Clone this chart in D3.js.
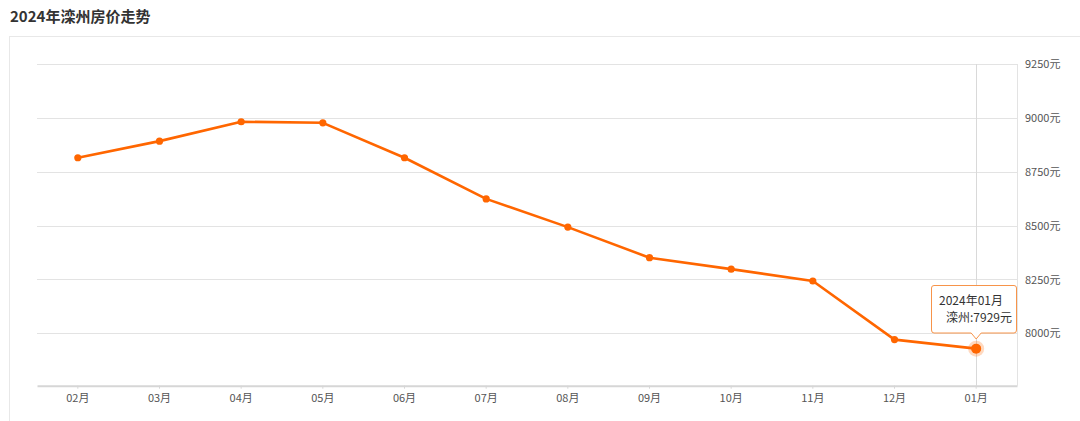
<!DOCTYPE html>
<html><head><meta charset="utf-8">
<script src="https://cdn.jsdelivr.net/npm/d3@7"></script>
<style>
html,body{margin:0;padding:0;background:#fff;}
svg{display:block;font-family:"Noto Sans CJK SC","Noto Sans",sans-serif;}
</style></head>
<body>
<svg id="c" width="1080" height="421"></svg>
<script>
const title = "2024年滦州房价走势";
const months = ["02月","03月","04月","05月","06月","07月","08月","09月","10月","11月","12月","01月"];
const prices = [8815, 8892, 8982, 8977, 8815, 8624, 8493, 8351, 8298, 8243, 7971, 7929];
const yTicks = [8000, 8250, 8500, 8750, 9000, 9250];
const yDomain = [7757, 9250];
const seriesName = "滦州";
const tooltipTitle = "2024年01月";
const activeIndex = 11;

const svg = d3.select("#c");
const M = {left: 37, right: 1017, top: 64, bottom: 385.7};
const color = "#ff6600";

// title
svg.append("text").attr("x", 10).attr("y", 22).attr("font-size", 15).attr("font-weight", "bold")
  .attr("fill", "#333").text(title);

// outer panel border
svg.append("rect").attr("x", 9.5).attr("y", 36.5).attr("width", 1080).attr("height", 400)
  .attr("fill", "none").attr("stroke", "#e8e8e8");

const x = d3.scaleBand().domain(months).range([M.left, M.right]);
const y = d3.scaleLinear().domain(yDomain).range([M.bottom, M.top]);

// grid
const grid = svg.append("g");
grid.selectAll("line").data(yTicks).join("line")
  .attr("x1", M.left).attr("x2", M.right)
  .attr("y1", d => Math.round(y(d)) + 0.5).attr("y2", d => Math.round(y(d)) + 0.5)
  .attr("stroke", "#e3e3e3").attr("stroke-width", 1);

// right frame line
svg.append("line").attr("x1", M.right + 0.5).attr("x2", M.right + 0.5)
  .attr("y1", y(yDomain[1])).attr("y2", M.bottom).attr("stroke", "#e3e3e3");

// crosshair
const cx = x(months[activeIndex]) + x.bandwidth() / 2;
svg.append("line").attr("x1", Math.round(cx) + 0.5).attr("x2", Math.round(cx) + 0.5)
  .attr("y1", y(yDomain[1])).attr("y2", M.bottom).attr("stroke", "#d9d9d9").attr("stroke-width", 1);

// y axis labels (right)
const yAxis = d3.axisRight(y).tickValues(yTicks).tickSize(0).tickPadding(0).tickFormat(d => d + "元");
const ya = svg.append("g").attr("transform", `translate(${M.right + 8},0)`).call(yAxis);
ya.select(".domain").remove();
ya.selectAll("text").attr("font-size", 11).attr("fill", "#555").attr("dy", "0.32em")
  .style("font-family", '"Noto Sans CJK SC","Noto Sans",sans-serif');

// x axis
const xAxis = d3.axisBottom(x).tickSize(3).tickPadding(6).tickSizeOuter(0);
const xa = svg.append("g").attr("transform", `translate(0,${M.bottom})`).call(xAxis);
xa.select(".domain").attr("stroke", "#d6d6d6").attr("stroke-width", 2);
xa.selectAll(".tick line").attr("stroke", "#d6d6d6");
xa.selectAll("text").attr("font-size", 11).attr("fill", "#555")
  .style("font-family", '"Noto Sans CJK SC","Noto Sans",sans-serif');

// line
const line = d3.line().x((d, i) => x(months[i]) + x.bandwidth() / 2).y(d => y(d));
svg.append("path").datum(prices).attr("d", line).attr("fill", "none")
  .attr("stroke", color).attr("stroke-width", 2.6).attr("stroke-linejoin", "round");

svg.append("g").selectAll("circle").data(prices).join("circle")
  .attr("cx", (d, i) => x(months[i]) + x.bandwidth() / 2).attr("cy", d => y(d))
  .attr("r", 3.6).attr("fill", color);

// active point
const ay = y(prices[activeIndex]);
svg.append("circle").attr("cx", cx).attr("cy", ay).attr("r", 8).attr("fill", color).attr("fill-opacity", 0.25);
svg.append("circle").attr("cx", cx).attr("cy", ay).attr("r", 5).attr("fill", color);

// tooltip
const tl = 931, tr = 1017, tt = 285, tb = 333, tipY = 339, r = 3;
const path = `M${tl + r},${tt + 0.5} H${tr - r} Q${tr - 0.5},${tt + 0.5} ${tr - 0.5},${tt + r} V${tb - r} Q${tr - 0.5},${tb} ${tr - r},${tb}
  H${cx + 5} L${cx},${tipY} L${cx - 5},${tb} H${tl + r} Q${tl + 0.5},${tb} ${tl + 0.5},${tb - r} V${tt + r} Q${tl + 0.5},${tt + 0.5} ${tl + r},${tt + 0.5} Z`;
svg.append("path").attr("d", path).attr("fill", "#fff").attr("fill-opacity", 0.95)
  .attr("stroke", "#f7944a").attr("stroke-width", 1);
svg.append("text").attr("x", 939).attr("y", 305).attr("font-size", 12).attr("fill", "#333").text(tooltipTitle);
svg.append("text").attr("x", 1012).attr("y", 322).attr("text-anchor", "end").attr("font-size", 12)
  .attr("fill", "#333").text(seriesName + ":" + prices[activeIndex] + "元");
</script>
</body></html>
